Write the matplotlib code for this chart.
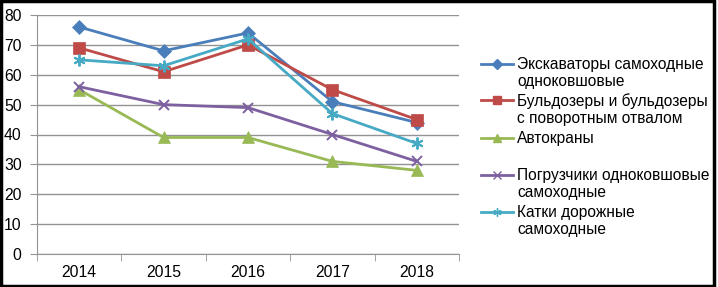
import matplotlib.pyplot as plt
from matplotlib.lines import Line2D
from matplotlib.patches import Rectangle

years = ['2014', '2015', '2016', '2017', '2018']

excavators = [76, 68, 74, 51, 44]
bulldozers = [69, 61, 70, 55, 45]
cranes = [55, 39, 39, 31, 28]
loaders = [56, 50, 49, 40, 31]
rollers = [65, 63, 72, 47, 37]

labels = ['Экскаваторы самоходные\nодноковшовые',
          'Бульдозеры и бульдозеры\nс поворотным отвалом',
          'Автокраны',
          'Погрузчики одноковшовые\nсамоходные',
          'Катки дорожные\nсамоходные']

plt.rcParams['font.family'] = ['Liberation Sans', 'DejaVu Sans']

fig = plt.figure(figsize=(7.18, 2.87), dpi=100)
ax = fig.add_axes([37 / 718, 1 - 254 / 287, 422 / 718, 239 / 287])

x = range(len(years))
series = [
    (excavators, '#4A7EBB', 'D', 7),
    (bulldozers, '#BE4B48', 's', 8.5),
    (cranes, '#98B954', '^', 8.5),
    (loaders, '#7D60A0', 'x', 7.5),
    (rollers, '#46AAC5', (6, 2, 0), 8.5),
]

handles = []
for vals, col, mk, ms in series:
    ln, = ax.plot(x, vals, color=col, lw=2, marker=mk, markersize=ms,
                  markeredgewidth=1.4 if mk in ('x', (6, 2, 0)) else 0.5,
                  markerfacecolor=col, markeredgecolor=col, zorder=3)
    handles.append(ln)

ax.set_xlim(-0.5, 4.5)
ax.set_ylim(0, 80)
ax.set_yticks(range(0, 81, 10))
ax.set_xticks(list(x))
ax.set_xticklabels(years)
ax.set_xticks([i + 0.5 for i in range(-1, 5)], minor=True)
ax.grid(axis='y', color='#939393', lw=1)
ax.set_axisbelow(True)
for s in ['top', 'right']:
    ax.spines[s].set_visible(False)
ax.spines['left'].set_color('#939393')
ax.spines['bottom'].set_color('#939393')
ax.tick_params(axis='x', which='major', length=0, pad=8, labelsize=11.3)
ax.tick_params(axis='x', which='minor', length=5, color='#939393')
ax.tick_params(axis='y', length=5, color='#939393', labelsize=11.3, pad=6)

# legend drawn by hand so the marker sits on the first text line
rows = [64, 100, 138, 175, 212]
for h, lab, y in zip(handles, labels, rows):
    yf = 1 - y / 287
    fig.add_artist(Line2D([481 / 718, 513 / 718], [yf, yf], color=h.get_color(), lw=2))
    fig.add_artist(Line2D([497 / 718], [yf], marker=h.get_marker(), color=h.get_color(),
                          markersize=h.get_markersize() * 0.7, markeredgewidth=1))
    fig.text(517 / 718, yf + 7 / 287, lab, fontsize=11.2, va='top', ha='left',
             linespacing=1.15)

fig.add_artist(Rectangle((0.002, 0.004), 0.993, 0.992, transform=fig.transFigure,
                         fill=False, ec='black', lw=2.5))

fig.savefig('out.png', dpi=100)
